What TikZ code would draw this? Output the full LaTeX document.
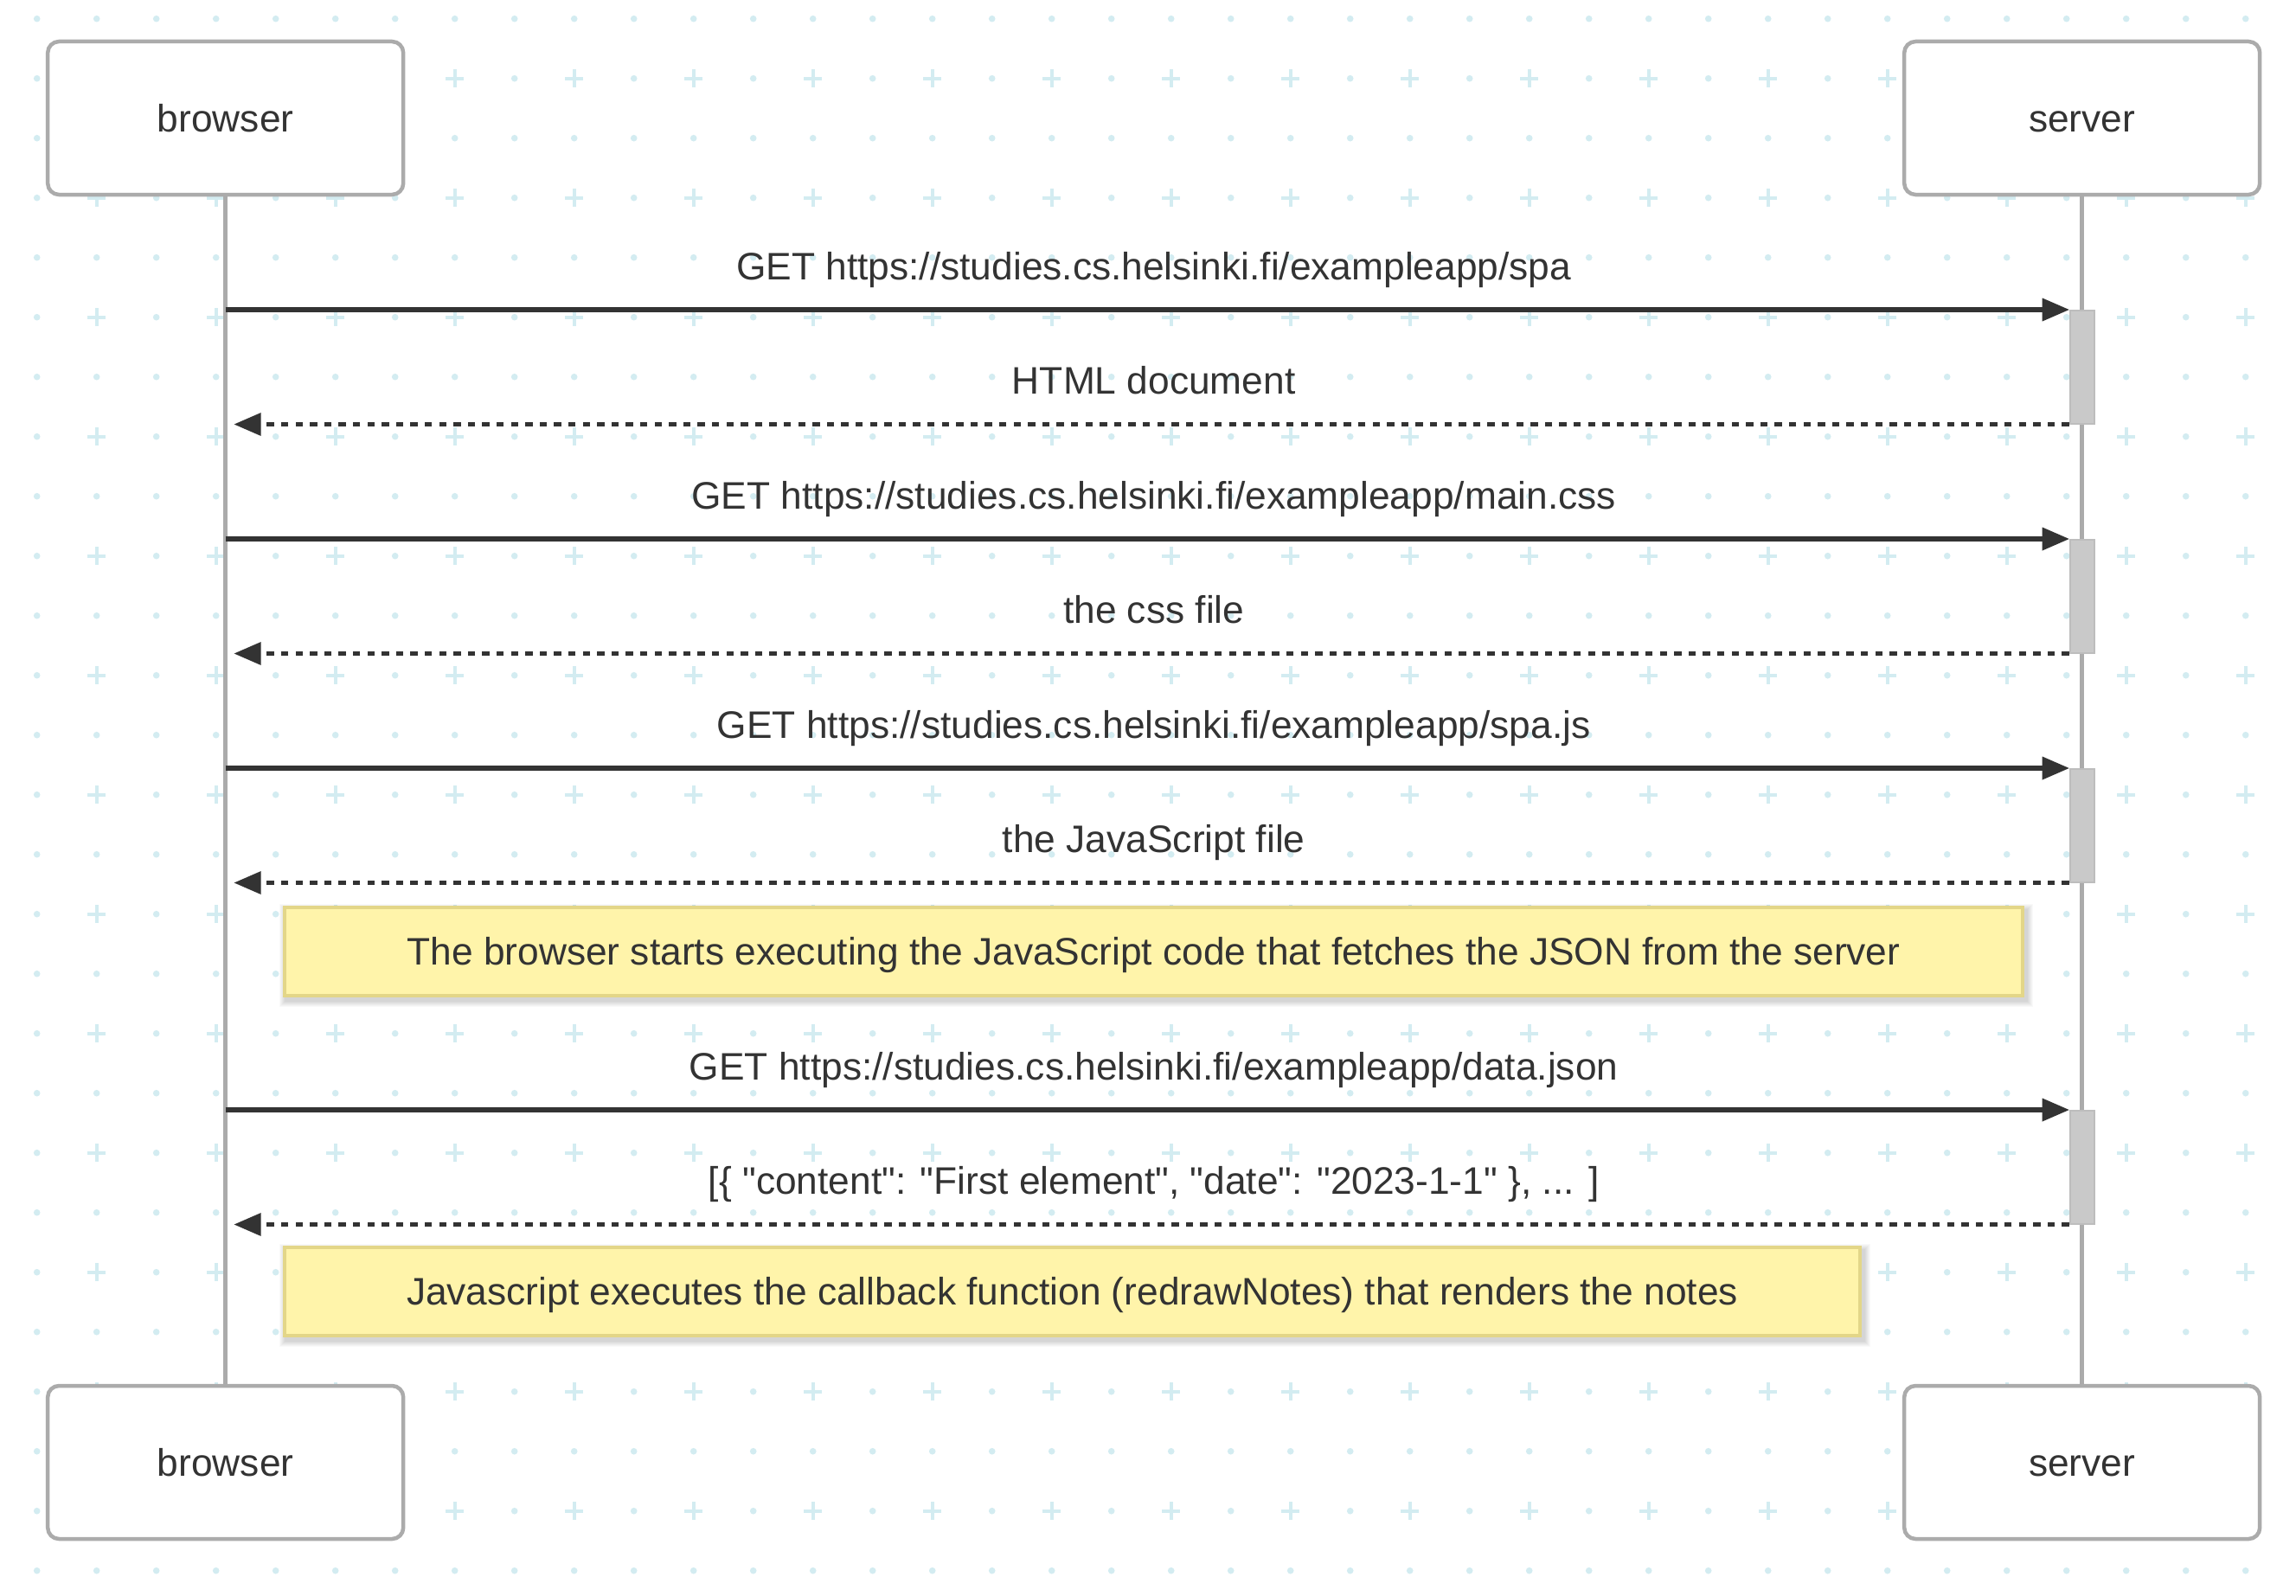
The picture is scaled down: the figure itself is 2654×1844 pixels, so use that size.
\documentclass[tikz,border=0pt]{standalone}
\usepackage{fontspec}
\newfontfamily\arialf{Liberation Sans}[Ligatures=NoCommon]
\usetikzlibrary{arrows.meta}
\definecolor{ink}{HTML}{333333}
\definecolor{gridc}{HTML}{D3ECF1}
\definecolor{actline}{HTML}{ABABAB}
\definecolor{actfill}{HTML}{C9C9C9}
\definecolor{actborder}{HTML}{BDBDBD}
\definecolor{notefill}{HTML}{FFF4AA}
\definecolor{noteborder}{HTML}{E3D688}
\newcommand{\lblfont}{\arialf\fontsize{44.3pt}{53pt}\selectfont}
\begin{document}
\begin{tikzpicture}[x=1pt,y=-1pt,
  actor/.style={draw=actline, line width=4.5pt, rounded corners=13pt, fill=white,
    minimum width=411pt, minimum height=177pt, inner sep=0pt, font=\lblfont, text=ink,
    text height=32pt, text depth=0pt},
  lifeline/.style={draw=actline, line width=4.5pt},
  actbar/.style={draw=actborder, line width=2pt, fill=actfill, minimum width=28pt,
    minimum height=130.5pt, inner sep=0pt},
  req/.style={draw=ink, line width=5.5pt, -{Triangle[length=31pt,width=27pt,line width=0pt]}},
  resp/.style={req, dash pattern=on 8.3pt off 8.3pt},
  lab/.style={font=\lblfont, text=ink, anchor=base, inner sep=0pt},
  note/.style={draw=noteborder, line width=4pt, fill=notefill, inner sep=0pt, font=\lblfont,
    text=ink, text height=32pt, text depth=0pt},
  gridcross/.style={draw=gridc, line width=3.6pt},
  shadowlayer/.style={fill=black, opacity=0.022}
]
\useasboundingbox (0,0) rectangle (2654,1844);
\fill[white] (0,0) rectangle (2654,1844);
% background grid
\foreach \i in {0,...,37}{
  \foreach \j in {0,...,26}{
    \pgfmathsetmacro\gx{42.7+69*\i}
    \pgfmathsetmacro\gy{21.7+69*\j}
    \pgfmathtruncatemacro\cr{and(isodd(\i),isodd(\j))}
    \ifnum\cr=1
      \draw[gridcross] (\gx-10.5,\gy) -- (\gx+10.5,\gy) (\gx,\gy-10.5) -- (\gx,\gy+10.5);
    \else
      \fill[gridc] (\gx,\gy) circle[radius=3.8pt];
    \fi
  }
}
% actors
\node[actor] (bt) at (260.7,136.5) {browser};
\node[actor] (st) at (2406.7,136.5) {server};
\node[actor] (bb) at (260.7,1690.5) {browser};
\node[actor] (sb) at (2406.7,1690.5) {server};
% lifelines
\draw[lifeline] (bt.south) -- (bb.north);
\draw[lifeline] (st.south) -- (sb.north);
% activation bars
\node[actbar] (a1) at (2406.7,424.25) {};
\node[actbar] (a2) at (2406.7,689.25) {};
\node[actbar] (a3) at (2406.7,954.25) {};
\node[actbar] (a4) at (2406.7,1349.25) {};
% browser-side ends
\coordinate (q1) at (260.7,358);
\coordinate (r1) at (270.7,490.5);
\coordinate (q2) at (260.7,623);
\coordinate (r2) at (270.7,755.5);
\coordinate (q3) at (260.7,888);
\coordinate (r3) at (270.7,1020.5);
\coordinate (q4) at (260.7,1283);
\coordinate (r4) at (270.7,1415.5);
% messages
\draw[req] (q1) -- (a1.north west);
\node[lab] (l1) at (1333.7,323) {GET https://studies.cs.helsinki.fi/exampleapp/spa};
\draw[resp] (a1.south west) -- (r1);
\node[lab] (l2) at (1333.7,455.5) {HTML document};
\draw[req] (q2) -- (a2.north west);
\node[lab] (l3) at (1333.7,588) {GET https://studies.cs.helsinki.fi/exampleapp/main.css};
\draw[resp] (a2.south west) -- (r2);
\node[lab] (l4) at (1333.7,720.5) {the css file};
\draw[req] (q3) -- (a3.north west);
\node[lab] (l5) at (1333.7,853) {GET https://studies.cs.helsinki.fi/exampleapp/spa.js};
\draw[resp] (a3.south west) -- (r3);
\node[lab] (l6) at (1333.7,985.5) {the JavaScript file};
% note 1
\foreach \k in {1,...,7}{
  \fill[shadowlayer] (330-\k,1052-\k) rectangle (2343+\k,1157+\k);
}
\node[note, minimum width=2009pt, minimum height=102pt] (n1) at (1333.5,1099.5)
  {The browser starts executing the JavaScript code that fetches the JSON from the server};
\draw[req] (q4) -- (a4.north west);
\node[lab] (l7) at (1333.7,1248) {GET https://studies.cs.helsinki.fi/exampleapp/data.json};
\draw[resp] (a4.south west) -- (r4);
\node[lab] (l8) at (1333.7,1380.5) {[\{ "content": "First element", "date": "2023-1-1" \}, ... ]};
% note 2
\foreach \k in {1,...,7}{
  \fill[shadowlayer] (330-\k,1445-\k) rectangle (2155+\k,1550+\k);
}
\node[note, minimum width=1821pt, minimum height=102pt] (n2) at (1239.5,1492.5)
  {Javascript executes the callback function (redrawNotes) that renders the notes};
\end{tikzpicture}
\end{document}
